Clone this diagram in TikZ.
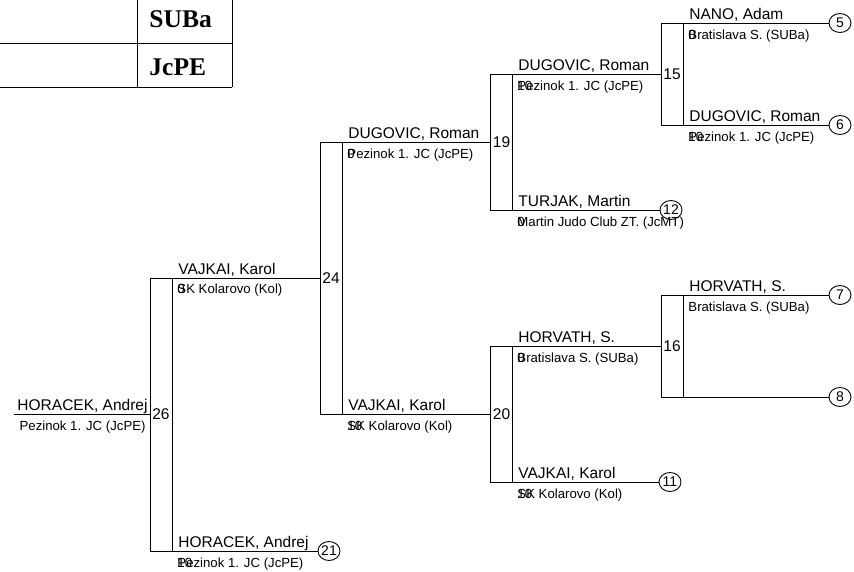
\documentclass[tikz,border=0pt]{standalone}
\usepackage{fontspec}
\setmainfont{Liberation Sans}
\newfontfamily\headfont{Liberation Serif}
\usetikzlibrary{shapes.geometric}

\begin{document}
\begin{tikzpicture}[x=1pt,y=-1pt,
                line width=0.9pt,
                mbox/.style = {draw, minimum width=22pt, inner sep=0pt, outer sep=0pt, font=\fontsize{15.5}{15.5}\selectfont},
                seed/.style = {draw, ellipse, minimum width=22pt, minimum height=19pt, inner sep=0pt, outer sep=0pt, font=\fontsize{14}{14}\selectfont},
                pname/.style = {anchor=base west, inner sep=0pt, font=\fontsize{15.5}{15.5}\selectfont},
                pclub/.style = {anchor=base west, inner sep=0pt, font=\fontsize{13.2}{13.2}\selectfont},
                hdr/.style = {anchor=base west, inner sep=0pt, font=\headfont\bfseries\fontsize{25.5}{25.5}\selectfont}]
            \useasboundingbox (0,0) rectangle (854,571);

            % Table
            \draw (137,0) -- (137,87) (232,0) -- (232,87) (0,43.5) -- (232,43.5) (0,87) -- (232,87);
            \node[hdr] (h1) at (149,27) {SUBa};
            \node[hdr] (h2) at (149,75) {JcPE};

            % Nodes
            \coordinate (start) at (14,414.5);
            \node[mbox,minimum height=273pt] (m26) at (161,414.5) {26};
            \node[mbox,minimum height=272pt] (m24) at (331,278) {24};
            \node[mbox,minimum height=136pt] (m19) at (501.5,142) {19};
            \node[mbox,minimum height=136pt] (m20) at (501.5,414) {20};
            \node[mbox,minimum height=102pt] (m15) at (672,74) {15};
            \node[mbox,minimum height=102pt] (m16) at (672,346) {16};

            \node[seed] (c5) at (840,23) {5};
            \node[seed] (c6) at (840,125) {6};
            \node[seed] (c7) at (840,295) {7};
            \node[seed] (c8) at (840,397) {8};
            \node[seed] (c12) at (671,210) {12};
            \node[seed] (c11) at (670,482) {11};
            \node[seed] (c21) at (329,551) {21};

            % Names
            \node[pname,anchor=base east] (n26) at (148,410) {HORACEK, Andrej};
            \node[pclub,anchor=base east] (k26) at (146,430) {Pezinok 1. JC (JcPE)};

            \node[pname] (n26t) at (178,274) {VAJKAI, Karol};
            \node[pclub] (k26t) at (177,293) {SK Kolarovo (Kol)};
            \node[pclub] (s26t) at (177,293) {0};
            \node[pname] (n26b) at (178,547) {HORACEK, Andrej};
            \node[pclub] (k26b) at (177,567) {Pezinok 1. JC (JcPE)};
            \node[pclub] (s26b) at (177,567) {10};

            \node[pname] (n24t) at (348,138) {DUGOVIC, Roman};
            \node[pclub] (k24t) at (347,158) {Pezinok 1. JC (JcPE)};
            \node[pclub] (s24t) at (347,158) {0};
            \node[pname] (n24b) at (348,410) {VAJKAI, Karol};
            \node[pclub] (k24b) at (347,430) {SK Kolarovo (Kol)};
            \node[pclub] (s24b) at (347,430) {10};

            \node[pname] (n19t) at (518,70) {DUGOVIC, Roman};
            \node[pclub] (k19t) at (517,90) {Pezinok 1. JC (JcPE)};
            \node[pclub] (s19t) at (517,90) {10};
            \node[pname] (n19b) at (518,206) {TURJAK, Martin};
            \node[pclub] (k19b) at (517,226) {Martin Judo Club ZT. (JcMT)};
            \node[pclub] (s19b) at (517,226) {0};

            \node[pname] (n20t) at (518,342) {HORVATH, S.};
            \node[pclub] (k20t) at (517,362) {Bratislava S. (SUBa)};
            \node[pclub] (s20t) at (517,362) {0};
            \node[pname] (n20b) at (518,478) {VAJKAI, Karol};
            \node[pclub] (k20b) at (517,498) {SK Kolarovo (Kol)};
            \node[pclub] (s20b) at (517,498) {10};

            \node[pname] (n15t) at (689,19) {NANO, Adam};
            \node[pclub] (k15t) at (688,39) {Bratislava S. (SUBa)};
            \node[pclub] (s15t) at (688,39) {0};
            \node[pname] (n15b) at (689,121) {DUGOVIC, Roman};
            \node[pclub] (k15b) at (688,141) {Pezinok 1. JC (JcPE)};
            \node[pclub] (s15b) at (688,141) {10};

            \node[pname] (n16t) at (689,291) {HORVATH, S.};
            \node[pclub] (k16t) at (688,311) {Bratislava S. (SUBa)};

            %Edges
            \draw (start) -- (m26.west);
            \draw (m26.north west) -- (m24.west);
            \draw (m26.south west) -- (c21);
            \draw (m24.north west) -- (m19.west);
            \draw (m24.south west) -- (m20.west);
            \draw (m19.north west) -- (m15.west);
            \draw (m19.south west) -- (c12);
            \draw (m20.north west) -- (m16.west);
            \draw (m20.south west) -- (c11);
            \draw (m15.north west) -- (c5);
            \draw (m15.south west) -- (c6);
            \draw (m16.north west) -- (c7);
            \draw (m16.south west) -- (c8);
        \end{tikzpicture}
\end{document}
